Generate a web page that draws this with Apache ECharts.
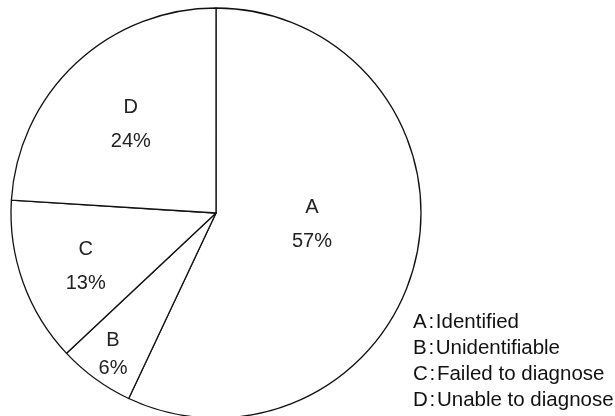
<!DOCTYPE html>
<html>
<head>
<meta charset="utf-8">
<script src="https://cdn.jsdelivr.net/npm/echarts@6/dist/echarts.min.js"></script>
<style>
  html, body { margin: 0; padding: 0; background: #fff; }
  #chart { width: 615px; height: 416px; }
</style>
</head>
<body>
<div id="chart"></div>
<script>
const categories = ["A", "B", "C", "D"];
const values = [57, 6, 13, 24];
const meanings = ["Identified", "Unidentifiable", "Failed to diagnose", "Unable to diagnose"];

// nudge the inside labels to where the original puts them
const labelShift = [[-7, -12], [-41, 56], [-31, 18], [-13, -12]];

const chart = echarts.init(document.getElementById("chart"));

chart.setOption({
  animation: false,
  legend: {
    orient: "vertical",
    left: 408,
    top: 309,
    height: 110,
    padding: 0,
    icon: "none",
    itemWidth: 0,
    itemHeight: 10,
    itemGap: 0,
    selectedMode: false,
    data: categories,
    formatter: (name) => name + "\u200a:\u200a" + meanings[categories.indexOf(name)],
    textStyle: {
      fontFamily: "Liberation Sans",
      fontSize: 20.5,
      lineHeight: 26,
      color: "#111",
    },
  },
  series: [
    {
      type: "pie",
      center: [216, 213],
      radius: 205,
      startAngle: 90,
      clockwise: true,
      silent: true,
      data: categories.map((c, i) => ({
        name: c,
        value: values[i],
        label: i === 1 ? { lineHeight: 28 } : {},
      })),
      itemStyle: {
        color: "#fff",
        borderColor: "#111",
        borderWidth: 1.3,
      },
      label: {
        show: true,
        position: "inside",
        formatter: "{b}\n{c}%",
        fontFamily: "Liberation Sans",
        fontSize: 20,
        lineHeight: 34,
        color: "#222",
      },
      labelLine: { show: false },
      labelLayout: (params) => ({
        dx: labelShift[params.dataIndex][0],
        dy: labelShift[params.dataIndex][1],
      }),
    },
  ],
});
</script>
</body>
</html>
